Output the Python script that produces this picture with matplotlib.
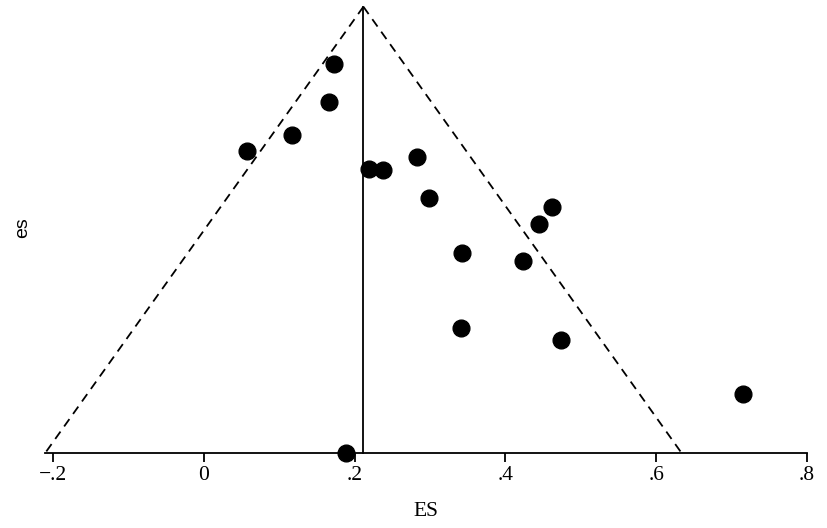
import numpy as np
import matplotlib
matplotlib.use("Agg")
import matplotlib.pyplot as plt

# study effect sizes and standard errors
es_values = [0.173, 0.166, 0.117, 0.057, 0.2195, 0.237, 0.282, 0.299,
             0.462, 0.444, 0.342, 0.423, 0.341, 0.473, 0.715, 0.189]
se_values = [0.0277, 0.0458, 0.0618, 0.0695, 0.0783, 0.0788, 0.0724, 0.0923,
             0.0968, 0.1049, 0.119, 0.1226, 0.155, 0.161, 0.187, 0.2155]

pooled_es = 0.2115
tick_values = [-0.2, 0, 0.2, 0.4, 0.6, 0.8]
tick_labels = ["\u2212.2", "0", ".2", ".4", ".6", ".8"]

plt.rcParams["font.family"] = ["Liberation Serif", "DejaVu Serif"]

fig = plt.figure(figsize=(8.27, 5.28), dpi=100)
ax = fig.add_axes([45 / 827, 1 - 453.3 / 528, 762 / 827, 446.6 / 528])

se_max = max(se_values)
se_line = np.array([0, se_max])

# pseudo 95% confidence limits
ax.plot(pooled_es - 1.96 * se_line, se_line, color="black", lw=1.3,
        ls=(0, (5, 3.5)), clip_on=False)
ax.plot(pooled_es + 1.96 * se_line, se_line, color="black", lw=1.3,
        ls=(0, (5, 3.5)), clip_on=False)
ax.plot([pooled_es, pooled_es], se_line, color="black", lw=1.3, clip_on=False)

ax.scatter(es_values, se_values, s=145, color="black", zorder=3, clip_on=False)

ax.set_xlim(pooled_es - 1.96 * se_max, 0.8)
ax.set_ylim(se_max, 0)

for side in ["top", "right", "left"]:
    ax.spines[side].set_visible(False)
ax.spines["bottom"].set_linewidth(1.3)

ax.set_xticks(tick_values)
ax.set_xticklabels(tick_labels, fontsize=15.5)
ax.tick_params(axis="x", length=6.5, width=1.3, pad=3)
ax.set_yticks([])

ax.set_xlabel("ES", fontsize=15.5, labelpad=12)
fig.text(23 / 827, 1 - 228 / 528, "es", rotation=90, fontsize=14,
         ha="center", va="center", family="Liberation Sans")

fig.savefig("out.png", dpi=100, facecolor="white")
